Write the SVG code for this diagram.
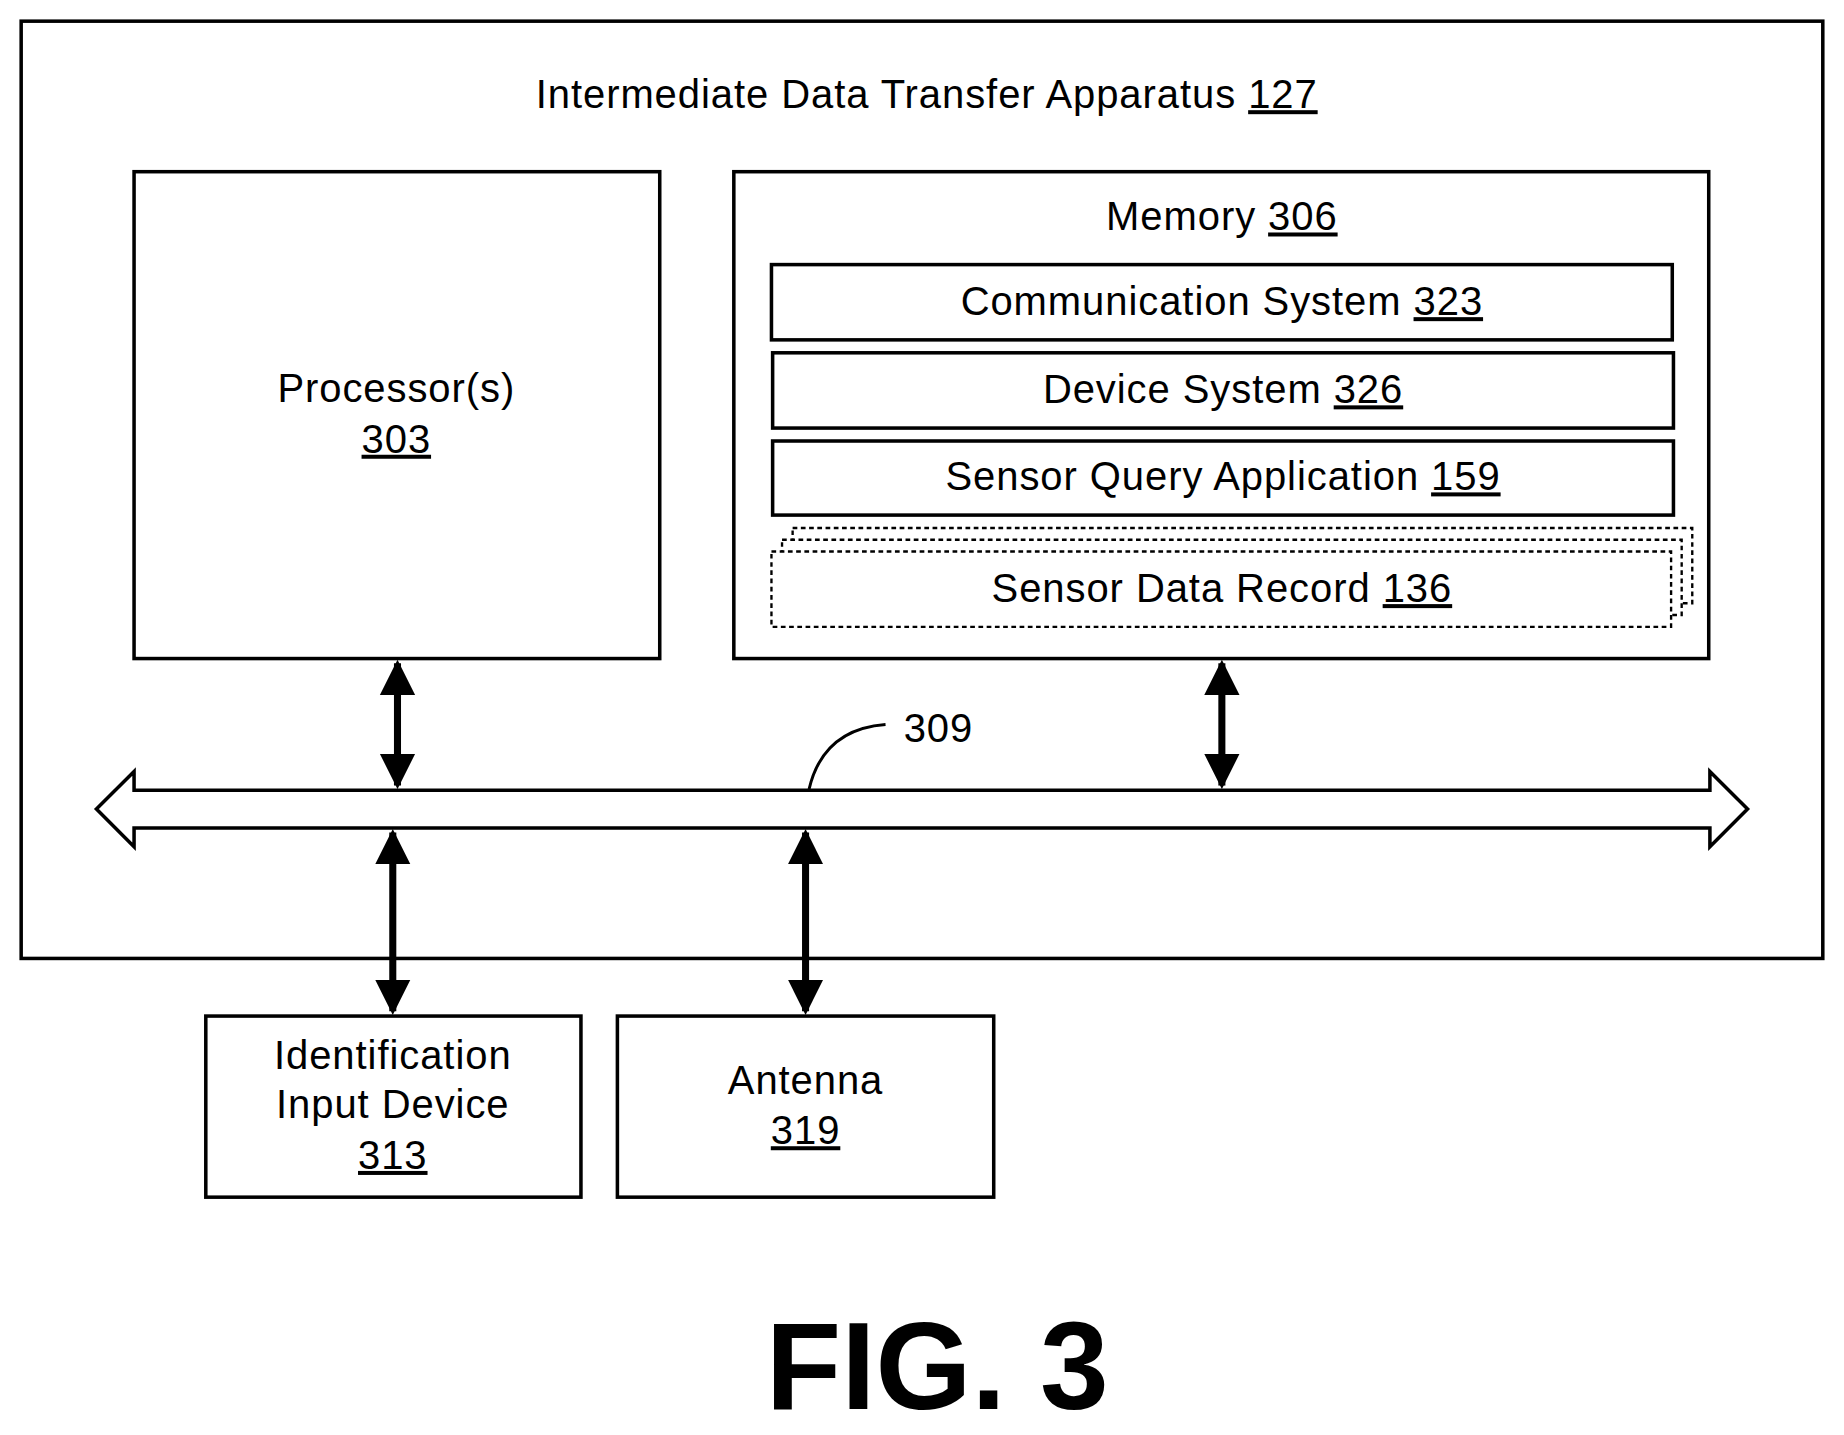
<svg xmlns="http://www.w3.org/2000/svg" width="1844" height="1435" viewBox="0 0 1844 1435">
<style>
text{font-family:"Liberation Sans",Arial,sans-serif;font-size:34px;letter-spacing:0.8px;text-anchor:middle;fill:#000}
.b{fill:#fff;stroke:#000;stroke-width:3}
.d{fill:#fff;stroke:#000;stroke-width:2;stroke-dasharray:4 3}
.u{text-decoration:underline}
.c{stroke:#000;stroke-width:6;fill:none}
</style>
<defs>
<marker id="ah" viewBox="0 0 10 10" refX="9" refY="5" markerWidth="5" markerHeight="6" orient="auto-start-reverse" markerUnits="strokeWidth"><path d="M0,0 L10,5 L0,10 z" fill="#000"/></marker>
</defs>
<rect width="1844" height="1435" fill="#fff"/>
<g transform="scale(1.176)">
<g id="apparatus"><rect class="b" x="18" y="18" width="1532" height="797"/>
<text x="788" y="92">Intermediate Data Transfer Apparatus <tspan class="u">127</tspan></text></g>
<g id="processor"><rect class="b" x="114" y="146" width="447" height="414"/>
<text x="337" y="342">Processor(s)</text><text x="337" y="385" class="u">303</text></g>
<g id="memory"><rect class="b" x="624" y="146" width="829" height="414"/>
<text x="1039" y="196">Memory <tspan class="u">306</tspan></text></g>
<g id="comm"><rect class="b" x="656" y="225" width="766" height="64"/>
<text x="1039" y="268">Communication System <tspan class="u">323</tspan></text></g>
<g id="device"><rect class="b" x="657" y="300" width="766" height="64"/>
<text x="1040" y="343">Device System <tspan class="u">326</tspan></text></g>
<g id="query"><rect class="b" x="657" y="375" width="766" height="63"/>
<text x="1040" y="417">Sensor Query Application <tspan class="u">159</tspan></text></g>
<g id="record">
<rect class="d" x="674" y="449" width="765" height="64"/>
<rect class="d" x="665" y="459" width="765" height="64"/>
<rect class="d" x="656" y="469" width="765" height="64"/>
<text x="1039" y="512">Sensor Data Record <tspan class="u">136</tspan></text></g>
<g id="bus"><path d="M82,688 L114,656 L114,672 L1454,672 L1454,656 L1486,688 L1454,720 L1454,704 L114,704 L114,720 Z" fill="#fff" stroke="#000" stroke-width="3"/>
<text x="798" y="631">309</text></g>
<g id="idinput"><rect class="b" x="175" y="864" width="319" height="154"/>
<text x="334" y="909">Identification</text><text x="334" y="951">Input Device</text><text x="334" y="994" class="u">313</text></g>
<g id="antenna"><rect class="b" x="525" y="864" width="320" height="154"/>
<text x="685" y="930">Antenna</text><text x="685" y="973" class="u">319</text></g>
<g id="connectors">
<path d="M688,671 Q700,620 753,616" fill="none" stroke="#000" stroke-width="2.5"/>
<line class="c" x1="338" y1="564" x2="338" y2="668" marker-start="url(#ah)" marker-end="url(#ah)"/>
<line class="c" x1="1039" y1="564" x2="1039" y2="668" marker-start="url(#ah)" marker-end="url(#ah)"/>
<line class="c" x1="334" y1="708" x2="334" y2="860" marker-start="url(#ah)" marker-end="url(#ah)"/>
<line class="c" x1="685" y1="708" x2="685" y2="860" marker-start="url(#ah)" marker-end="url(#ah)"/>
</g>
<text x="797" y="1198" style="font-size:105px;font-weight:bold;letter-spacing:0">FIG. 3</text>
</g>
</svg>
